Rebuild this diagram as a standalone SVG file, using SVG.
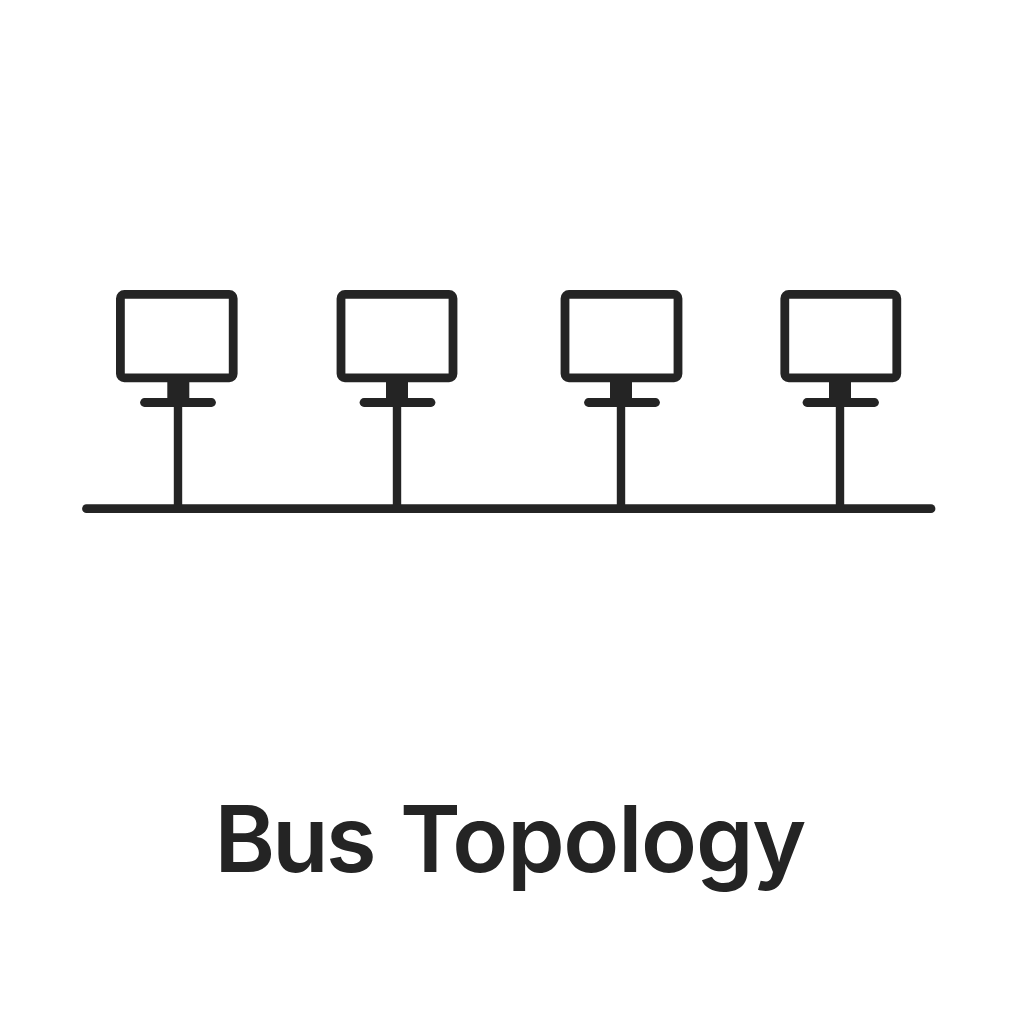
<svg xmlns="http://www.w3.org/2000/svg" width="1024" height="1024" viewBox="0 0 1024 1024">
<style>
.screen{fill:#fff;stroke:#242424;stroke-width:8.800}
.solid{fill:#242424}
.line{stroke:#242424;stroke-width:8.800;stroke-linecap:round;fill:none}
.stem{stroke:#242424;stroke-width:8.400;fill:none}
.title{font-family:Inter,"Liberation Sans",sans-serif;font-weight:600;font-size:92px;fill:#242424}
.w1{letter-spacing:-2.800px}
.w2{letter-spacing:-1.200px}
</style>
<rect width="1024" height="1024" fill="#fff"/>
<g id="connectors">
<line class="line" x1="86.500" y1="508.700" x2="931" y2="508.700"/>
<line class="stem" x1="178" y1="402" x2="178" y2="509"/>
<line class="stem" x1="397" y1="402" x2="397" y2="509"/>
<line class="stem" x1="621" y1="402" x2="621" y2="509"/>
<line class="stem" x1="840" y1="402" x2="840" y2="509"/>
</g>
<g id="node1">
<rect class="screen" x="120.400" y="294.400" width="112.800" height="83.400" rx="4"/>
<rect class="solid" x="167.300" y="378" width="22" height="22"/>
<line class="line" x1="144.500" y1="402.500" x2="211.500" y2="402.500"/>
</g>
<g id="node2">
<rect class="screen" x="341" y="294.400" width="112" height="83.400" rx="4"/>
<rect class="solid" x="386" y="378" width="22" height="22"/>
<line class="line" x1="364" y1="402.500" x2="431" y2="402.500"/>
</g>
<g id="node3">
<rect class="screen" x="565" y="294.400" width="113" height="83.400" rx="4"/>
<rect class="solid" x="610" y="378" width="22" height="22"/>
<line class="line" x1="588.500" y1="402.500" x2="655.500" y2="402.500"/>
</g>
<g id="node4">
<rect class="screen" x="784.800" y="294.400" width="112" height="83.400" rx="4"/>
<rect class="solid" x="829" y="378" width="22" height="22"/>
<line class="line" x1="807" y1="402.500" x2="874.500" y2="402.500"/>
</g>
<text class="title" y="872"><tspan class="w1" x="214.500">Bus</tspan> <tspan class="w2" x="400">Topology</tspan></text>
</svg>
